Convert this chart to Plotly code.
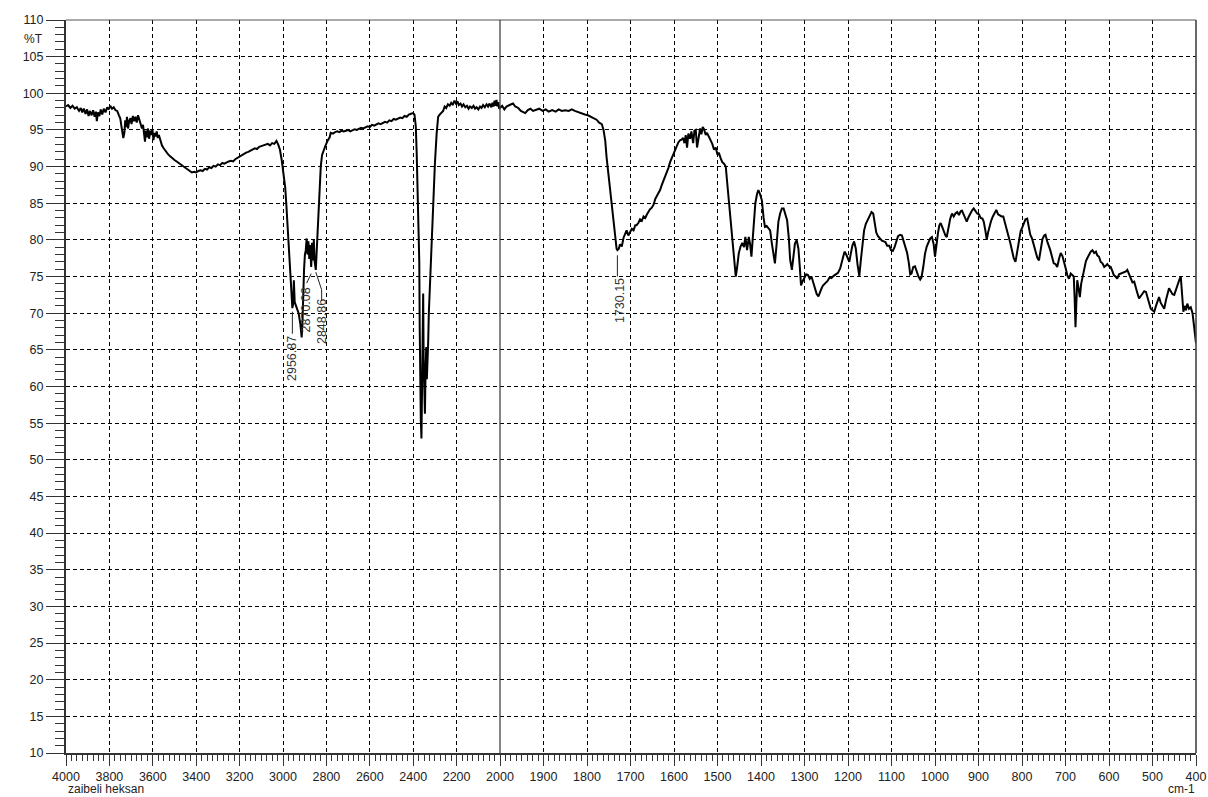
import plotly.graph_objects as go

# ---------------- spectrum data (wavenumber in cm-1, transmittance in %T) ----------------
# 4000 - 2000 cm-1 region (compressed scale)
wn_high = [
    4000, 3990, 3980, 3970, 3960, 3950, 3940, 3932, 3925, 3918, 3910, 3903, 3896, 3890, 3882,
    3875, 3868, 3862, 3858, 3853, 3846, 3840, 3833, 3826, 3818, 3810, 3803, 3796, 3788, 3780,
    3772, 3764, 3756, 3750, 3745, 3740, 3736, 3731, 3727, 3723, 3719, 3714, 3709, 3703, 3698,
    3692, 3686, 3680, 3674, 3668, 3662, 3656, 3650, 3645, 3640, 3636, 3632, 3627, 3622, 3617,
    3612, 3607, 3602, 3597, 3592, 3587, 3582, 3577, 3572, 3565, 3558, 3550, 3540, 3530, 3520,
    3510, 3500, 3490, 3480, 3470, 3460, 3450, 3440, 3430, 3420, 3410, 3400, 3390, 3380, 3370,
    3360, 3350, 3340, 3330, 3320, 3310, 3300, 3290, 3280, 3270, 3260, 3250, 3240, 3230, 3220,
    3210, 3200, 3190, 3180, 3170, 3160, 3150, 3140, 3130, 3120, 3110, 3100, 3090, 3080, 3070,
    3060, 3050, 3040, 3030, 3022, 3014, 3006, 3000, 2995, 2990, 2985, 2980, 2975, 2970, 2966,
    2962, 2960, 2956.87, 2953, 2950, 2946, 2938, 2928, 2920, 2914, 2910, 2907, 2903, 2899, 2895,
    2891, 2887, 2883, 2879, 2875, 2870.08, 2866, 2862, 2858, 2854, 2848.86, 2844, 2840, 2836, 2830,
    2826, 2820, 2812, 2805, 2795, 2785, 2780, 2770, 2760, 2750, 2740, 2730, 2720, 2710, 2700,
    2690, 2680, 2670, 2660, 2650, 2640, 2630, 2620, 2610, 2600, 2590, 2580, 2570, 2560, 2550,
    2540, 2530, 2520, 2510, 2500, 2490, 2480, 2470, 2460, 2450, 2440, 2430, 2420, 2410, 2400,
    2394, 2388, 2384, 2380, 2376, 2372, 2370, 2368, 2365, 2362, 2359, 2356, 2354, 2352, 2349,
    2346, 2343, 2340, 2337, 2334, 2331, 2328, 2322, 2316, 2308, 2300, 2292, 2285, 2278, 2270,
    2262, 2255, 2248, 2240, 2232, 2225, 2218, 2210, 2203, 2196, 2190, 2182, 2175, 2168, 2160,
    2152, 2145, 2138, 2130, 2122, 2115, 2108, 2100, 2092, 2085, 2078, 2070, 2062, 2055, 2048,
    2040, 2035, 2030, 2025, 2020, 2016, 2012, 2008, 2004, 2000,
]
t_high = [
    98.2, 98.4, 98.0, 98.3, 97.9, 98.1, 97.6, 98.0, 97.4, 97.9, 97.2, 97.8, 96.9, 97.6, 97.0,
    97.7, 96.8, 97.5, 96.2, 97.4, 96.9, 97.8, 97.1, 97.9, 97.4, 98.1, 97.8, 98.3, 97.9, 98.1,
    97.7, 97.6, 97.0, 96.6, 95.6, 94.5, 93.9, 94.6, 96.3, 95.4, 96.8, 95.2, 96.2, 96.6, 95.8,
    96.9, 96.2, 96.8, 96.0, 97.0, 96.4, 95.9, 95.2, 95.7, 94.6, 93.4, 94.9, 94.0, 95.2, 93.8,
    94.9, 94.3, 95.1, 93.6, 94.6, 94.1, 94.8, 93.9, 94.3, 93.4, 92.9, 92.5, 92.0, 91.7, 91.4,
    91.1, 90.9, 90.7, 90.5, 90.2, 90.0, 89.8, 89.6, 89.4, 89.2, 89.3, 89.2, 89.4, 89.5, 89.4,
    89.7, 89.6, 89.9, 89.8, 90.1, 90.0, 90.3, 90.2, 90.5, 90.4, 90.6, 90.7, 90.8, 90.7, 91.0,
    91.2, 91.3, 91.6, 91.7, 91.9, 92.0, 92.2, 92.3, 92.5, 92.4, 92.7, 92.8, 92.9, 93.0, 93.1,
    92.9, 93.2, 93.1, 93.5, 93.0, 92.3, 90.9, 89.6, 88.3, 87.2, 85.0, 82.5, 80.2, 77.5, 75.0,
    72.6, 71.5, 70.7, 71.3, 74.5, 71.5, 70.8, 70.0, 68.5, 66.7, 69.0, 73.0, 76.0, 78.0, 78.6,
    80.2, 78.0, 79.8, 77.4, 79.3, 76.3, 79.6, 77.2, 80.0, 77.0, 75.9, 79.0, 82.5, 85.0, 88.0,
    90.0, 91.6, 92.4, 92.8, 93.5, 94.0, 94.6, 94.5, 94.7, 94.8, 94.7, 94.9, 94.8, 94.9, 95.0,
    94.8, 94.9, 95.1, 95.0, 95.2, 95.3, 95.2, 95.4, 95.5, 95.4, 95.7, 95.6, 95.8, 95.9, 95.8,
    96.0, 96.1, 96.0, 96.3, 96.2, 96.5, 96.4, 96.6, 96.7, 96.6, 96.9, 96.8, 97.1, 97.2, 97.3,
    97.1, 95.5, 92.0, 87.5, 82.0, 77.0, 68.0, 58.5, 55.5, 52.9, 60.0, 68.0, 72.7, 64.0, 58.0,
    56.3, 62.0, 65.4, 61.0, 62.7, 66.0, 70.0, 75.0, 79.1, 85.0, 90.4, 94.5, 96.8, 97.1, 97.4,
    97.6, 98.2, 98.0, 98.5, 98.3, 98.7, 98.4, 99.0, 98.6, 98.9, 98.4, 98.6, 98.2, 98.5, 98.1,
    98.3, 97.9, 98.2, 98.0, 98.3, 97.9, 98.1, 97.8, 98.2, 98.0, 98.4, 98.1, 98.5, 98.2, 98.6,
    98.1, 98.7, 98.2, 99.0, 98.3, 99.1, 98.2, 98.8, 97.9, 98.0,
]

# 2000 - 400 cm-1 region (expanded scale)
wn_low = [
    2000, 1995, 1990, 1985, 1978, 1970, 1965, 1958, 1952, 1946, 1942, 1936, 1930, 1924, 1918,
    1910, 1902, 1895, 1888, 1880, 1872, 1865, 1858, 1850, 1842, 1835, 1828, 1820, 1812, 1805,
    1798, 1790, 1784, 1778, 1772, 1766, 1762, 1758, 1755, 1751, 1747, 1743, 1739, 1735, 1732,
    1730.15, 1727, 1724, 1720, 1716, 1712, 1709, 1705, 1701, 1697, 1693, 1689, 1686, 1682, 1678,
    1674, 1670, 1666, 1663, 1659, 1655, 1651, 1647, 1643, 1639, 1635, 1632, 1628, 1624, 1620,
    1617, 1613, 1609, 1605, 1601, 1598, 1594, 1590, 1586, 1582, 1579, 1576, 1573, 1570, 1567,
    1563, 1560, 1556, 1553, 1550, 1547, 1543, 1540, 1537, 1534, 1531, 1527, 1524, 1520, 1516,
    1512, 1508, 1504, 1500, 1497, 1493, 1489, 1485, 1481, 1478, 1474, 1470, 1466, 1462, 1458,
    1455, 1451, 1447, 1443, 1439, 1436, 1432, 1428, 1425, 1422, 1418, 1415, 1413, 1409, 1406,
    1402, 1398, 1394, 1391, 1387, 1383, 1379, 1375, 1371, 1368, 1364, 1360, 1356, 1352, 1348,
    1344, 1340, 1336, 1333, 1329, 1326, 1322, 1318, 1314, 1311, 1308, 1304, 1300, 1296, 1292,
    1288, 1284, 1280, 1276, 1272, 1268, 1264, 1260, 1257, 1252, 1247, 1242, 1238, 1233, 1228,
    1223, 1218, 1214, 1211, 1208, 1204, 1200, 1197, 1194, 1190, 1186, 1182, 1178, 1174, 1170,
    1166, 1163, 1159, 1155, 1151, 1146, 1142, 1138, 1135, 1131, 1127, 1122, 1118, 1114, 1110,
    1105, 1101, 1097, 1093, 1089, 1085, 1080, 1076, 1072, 1068, 1064, 1060, 1057, 1054, 1050,
    1046, 1042, 1038, 1034, 1031, 1027, 1023, 1019, 1015, 1011, 1007, 1003, 1000, 997, 993,
    990, 987, 983, 979, 976, 973, 969, 965, 961, 957, 953, 949, 945, 941, 938,
    934, 931, 927, 923, 919, 915, 911, 907, 903, 899, 895, 891, 888, 884, 881,
    878, 875, 871, 867, 863, 859, 855, 851, 847, 843, 839, 835, 831, 827, 823,
    819, 815, 811, 807, 803, 800, 796, 792, 788, 784, 781, 777, 773, 769, 765,
    761, 757, 753, 749, 746, 742, 738, 735, 731, 727, 723, 719, 715, 711, 707,
    703, 699, 696, 692, 688, 684, 681, 679, 677, 675, 673, 670, 667, 664, 660,
    656, 653, 650, 646, 642, 638, 634, 630, 627, 623, 619, 615, 611, 607, 604,
    600, 596, 592, 589, 585, 581, 577, 573, 569, 565, 561, 558, 554, 550, 546,
    542, 538, 535, 531, 527, 523, 519, 515, 511, 508, 504, 500, 496, 492, 489,
    485, 481, 477, 473, 469, 466, 462, 458, 454, 450, 446, 442, 438, 435, 432,
    429, 426, 423, 420, 416, 412, 408, 404, 400,
]
t_low = [
    98.0, 98.3, 97.8, 98.2, 98.4, 98.6, 98.2, 98.0, 97.6, 97.4, 97.3, 97.7, 97.9, 97.6, 97.7,
    97.9, 97.6, 97.8, 97.5, 97.7, 97.5, 97.8, 97.6, 97.7, 97.6, 97.8, 97.6, 97.4, 97.3, 97.1,
    97.0, 96.8, 96.6, 96.4, 96.0, 95.8, 95.0, 93.5, 91.3, 89.0, 86.8, 84.5, 82.2, 80.0, 78.8,
    78.6, 78.8, 79.4, 79.1, 80.3, 81.0, 81.3, 80.6, 81.1, 81.5, 81.3, 82.0, 82.0, 82.3, 82.8,
    82.6, 83.2, 83.0, 83.4, 83.9, 84.2, 84.4, 84.8, 85.6, 86.0, 86.4, 86.8, 87.5, 88.1, 88.6,
    89.1, 89.8, 90.6, 91.2, 91.8, 92.3, 92.9, 93.3, 93.6, 93.7, 93.9, 93.2, 94.3, 92.6, 94.5,
    93.8, 94.8, 93.2, 94.9, 95.0, 92.6, 94.2, 95.2, 94.4, 95.4, 95.1, 94.3, 94.6, 94.1, 93.6,
    93.1, 92.3, 92.6, 91.6, 91.9, 91.2, 90.6, 90.4, 90.0, 88.0, 85.4, 82.5, 80.0, 77.3, 75.0,
    76.2, 78.2, 79.1, 79.6, 79.0, 80.4, 78.6, 80.4, 79.4, 77.7, 81.0, 83.5, 85.0, 86.3, 86.8,
    86.2, 85.4, 83.0, 81.8, 81.9, 81.5, 81.3, 79.5, 77.5, 76.8, 79.5, 82.5, 83.6, 84.3, 84.3,
    83.5, 82.7, 80.2, 77.3, 75.9, 77.6, 79.5, 80.0, 78.8, 76.5, 73.8, 74.4, 74.9, 75.3, 75.2,
    74.7, 75.0, 74.2, 73.4, 72.6, 72.3, 73.0, 73.5, 73.8, 74.1, 74.4, 74.9, 74.8, 75.1, 75.3,
    75.5, 76.1, 77.0, 78.0, 78.4, 78.0, 77.3, 77.0, 78.0, 79.2, 79.8, 78.8, 76.6, 75.1, 77.5,
    80.0, 81.3, 82.2, 82.7, 83.3, 83.8, 83.6, 82.3, 81.0, 80.5, 80.2, 79.9, 79.8, 79.7, 79.2,
    79.2, 78.6, 78.5, 79.0, 79.9, 80.5, 80.7, 80.6, 79.8, 79.0, 78.2, 76.8, 75.3, 75.4, 76.3,
    76.4, 75.6, 75.0, 74.6, 74.9, 76.3, 78.1, 79.1, 79.6, 80.2, 80.4, 79.4, 77.7, 79.5, 81.0,
    82.0, 82.3, 81.7, 81.0, 80.6, 80.4, 81.7, 82.9, 83.6, 83.2, 83.6, 83.8, 83.4, 83.9, 84.0,
    83.5, 83.0, 82.5, 83.1, 83.6, 84.0, 84.3, 84.0, 83.6, 83.5, 83.0, 82.9, 82.5, 81.2, 80.0,
    81.0, 81.9, 82.6, 83.2, 83.7, 84.1, 83.5, 83.3, 83.2, 83.2, 82.4, 81.4, 80.5, 79.6, 78.3,
    77.5, 77.0, 78.4, 79.9, 81.2, 81.6, 82.3, 82.8, 82.9, 81.6, 80.7, 80.2, 79.2, 78.5, 77.6,
    77.2, 78.8, 80.1, 80.6, 80.7, 79.8, 79.2, 78.6, 77.7, 76.8, 76.7, 76.3, 77.4, 78.2, 77.8,
    77.0, 76.0, 75.2, 74.7, 75.4, 75.2, 75.0, 72.0, 68.1, 71.5, 74.5, 73.4, 72.2, 74.0, 75.2,
    76.4, 77.1, 77.5, 78.0, 78.4, 78.6, 78.2, 78.4, 77.9, 77.7, 77.0, 76.8, 76.3, 76.5, 76.7,
    76.4, 76.3, 75.7, 75.2, 75.0, 74.7, 75.3, 75.4, 75.5, 75.7, 75.7, 75.9, 75.3, 74.7, 74.2,
    74.3, 73.6, 72.8, 72.0, 72.4, 72.7, 73.0, 72.9, 72.0, 71.2, 70.6, 70.4, 70.2, 71.0, 71.6,
    72.2, 71.4, 70.9, 70.6, 71.8, 72.6, 73.4, 73.0, 72.6, 72.5, 73.3, 74.0, 74.6, 75.0, 73.0,
    70.2, 71.0, 70.4, 71.3, 70.6, 70.8, 70.0, 68.0, 65.9,
]

# labelled band positions
peak_wn = [2956.87, 2870.08, 2848.86, 1730.15]
peak_text = ["2956.87", "2870.08", "2848.86", "1730.15"]

# ---------------- layout geometry ----------------
W, H = 1208, 797
ML, MR, MT, MB = 66, 12, 20, 44
PLOT_W = W - ML - MR
PLOT_H = H - MT - MB
SPLIT = 434 / PLOT_W          # fraction of the width taken by 4000-2000 cm-1

def px(xp):
    return (xp - ML) / PLOT_W

def py(yp):
    return (H - MB - yp) / PLOT_H

FONT = "Liberation Sans, Arial, sans-serif"
TICK_FONT = dict(family=FONT, size=12.5, color="#222222")
DASH = "4px,3px"

fig = go.Figure()
fig.add_trace(go.Scatter(x=wn_high, y=t_high, xaxis="x", yaxis="y", mode="lines",
                         line=dict(color="black", width=2), showlegend=False, hoverinfo="x+y"))
fig.add_trace(go.Scatter(x=wn_low, y=t_low, xaxis="x2", yaxis="y", mode="lines",
                         line=dict(color="black", width=2), showlegend=False, hoverinfo="x+y"))

common_x = dict(
    showline=True, linecolor="#333333", linewidth=2,
    ticks="outside", ticklen=11, tickwidth=1, tickcolor="#333333",
    showgrid=True, gridcolor="black", gridwidth=1, griddash=DASH,
    zeroline=False, tickfont=TICK_FONT, anchor="y", automargin=False,
)

fig.update_layout(
    width=W, height=H, autosize=False,
    margin=dict(l=ML, r=MR, t=MT, b=MB, pad=0, autoexpand=False),
    paper_bgcolor="white", plot_bgcolor="white",
    xaxis=dict(
        domain=[0, SPLIT], range=[4000, 2000],
        tickmode="array", tickvals=list(range(4000, 1999, -200)),
        minor=dict(tickmode="array", tickvals=[v / 4 for v in range(16000, 7999, -100)],
                   ticks="outside", ticklen=6, tickcolor="#333333", showgrid=False),
        **common_x,
    ),
    xaxis2=dict(
        domain=[SPLIT, 1], range=[2000, 400],
        tickmode="array", tickvals=list(range(1900, 399, -100)),
        minor=dict(tickmode="array", tickvals=[v / 8 for v in range(16000, 3199, -100)],
                   ticks="outside", ticklen=6, tickcolor="#333333", showgrid=False),
        **common_x,
    ),
    yaxis=dict(
        domain=[0, 1], range=[10, 110], anchor="x", automargin=False,
        tickmode="linear", tick0=10, dtick=5,
        ticks="outside", ticklen=18, tickwidth=1, tickcolor="#333333",
        minor=dict(dtick=1, ticks="outside", ticklen=9, tickcolor="#333333", showgrid=False),
        showline=True, linecolor="#333333", linewidth=2,
        showgrid=True, gridcolor="black", gridwidth=1, griddash=DASH,
        zeroline=False, tickfont=TICK_FONT,
    ),
)

# frame: top edge, right edge and the scale-change divider at 2000 cm-1
shapes = [
    dict(type="line", xref="paper", yref="paper", x0=0, x1=1, y0=1, y1=1,
         line=dict(color="#555555", width=1.2)),
    dict(type="line", xref="paper", yref="paper", x0=1, x1=1, y0=0, y1=1,
         line=dict(color="#444444", width=1.6)),
    dict(type="line", xref="paper", yref="paper", x0=SPLIT, x1=SPLIT, y0=0, y1=1,
         line=dict(color="#333333", width=1.2)),
]

# leader lines from the band minima to their labels
leader = dict(color="#222222", width=1)
shapes += [
    dict(type="line", xref="x", yref="y", x0=peak_wn[0], x1=peak_wn[0], y0=70.2, y1=67.2, line=leader),
    dict(type="line", xref="x", yref="y", x0=peak_wn[1], x1=2891, y0=75.4, y1=74.1, line=leader),
    dict(type="path", xref="x", yref="y",
         path=f"M {peak_wn[2]},75.6 L 2822,73.2 L 2822,71.8", line=leader),
    dict(type="line", xref="x2", yref="y", x0=peak_wn[3], x1=peak_wn[3], y0=77.9, y1=75.0, line=leader),
]
fig.update_layout(shapes=shapes)

LABEL_FONT = dict(family=FONT, size=12.5, color="#333333")
annotations = [
    dict(xref="x", yref="y", x=peak_wn[0], y=63.8, xshift=-1, text=peak_text[0]),
    dict(xref="x", yref="y", x=peak_wn[1], y=70.4, xshift=-5, text=peak_text[1]),
    dict(xref="x", yref="y", x=peak_wn[2], y=68.9, xshift=6, text=peak_text[2]),
    dict(xref="x2", yref="y", x=peak_wn[3], y=71.7, xshift=2, text=peak_text[3]),
]
for a in annotations:
    a.update(textangle=-90, showarrow=False, xanchor="center", yanchor="middle",
             font=LABEL_FONT, bgcolor="rgba(0,0,0,0)")

annotations += [
    dict(xref="paper", yref="paper", x=px(33), y=py(39), text="%T", showarrow=False,
         xanchor="center", yanchor="middle", font=dict(family=FONT, size=12, color="#222222")),
    dict(xref="paper", yref="paper", x=px(66), y=py(789), text="zaibeli heksan", showarrow=False,
         xanchor="left", yanchor="middle", font=dict(family=FONT, size=12, color="#222222")),
    dict(xref="paper", yref="paper", x=px(1197), y=py(789), text="cm-1", showarrow=False,
         xanchor="right", yanchor="middle", font=dict(family=FONT, size=12, color="#222222")),
]
fig.update_layout(annotations=annotations)

fig.write_html("out.html")
